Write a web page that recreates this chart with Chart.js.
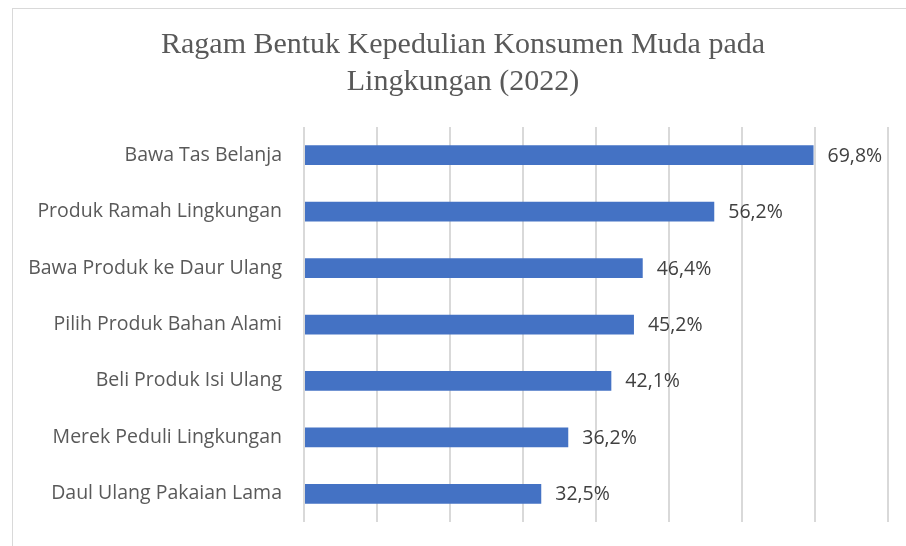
<!DOCTYPE html>
<html>
<head>
<meta charset="utf-8">
<script src="https://cdn.jsdelivr.net/npm/chart.js@4"></script>
<style>
  html, body { margin: 0; padding: 0; background: #fff; overflow: hidden; }
  #frame {
    position: absolute; left: 12px; top: 8px;
    width: 920px; height: 560px;
    border: 1px solid #d9d9d9;
  }
  #wrap { position: absolute; left: 0; top: 0; width: 900px; height: 537px; }
</style>
</head>
<body>
<div id="frame">
  <div id="wrap"><canvas id="barChart"></canvas></div>
</div>
<script>
const categories = [
  "Bawa Tas Belanja",
  "Produk Ramah Lingkungan",
  "Bawa Produk ke Daur Ulang",
  "Pilih Produk Bahan Alami",
  "Beli Produk Isi Ulang",
  "Merek Peduli Lingkungan",
  "Daul Ulang Pakaian Lama"
];
const values = [69.8, 56.2, 46.4, 45.2, 42.1, 36.2, 32.5];
const valueLabels = ["69,8%", "56,2%", "46,4%", "45,2%", "42,1%", "36,2%", "32,5%"];
const titleLines = ["Ragam Bentuk Kepedulian Konsumen Muda pada", "Lingkungan (2022)"];

const labelFont = "'Open Sans', sans-serif";

// title drawn by hand so it can be centred on the whole frame,
// the built-in one would clip the long category labels
const titlePlugin = {
  id: "frameTitle",
  afterDraw(chart) {
    const c = chart.ctx;
    c.save();
    c.font = "30px 'Liberation Serif', serif";
    c.fillStyle = "#595959";
    c.textAlign = "center";
    c.textBaseline = "middle";
    titleLines.forEach((line, i) => {
      c.fillText(line, chart.width / 2, 36 + i * 37.5);
    });
    c.restore();
  }
};

// draws the value next to each bar end
const valueLabelPlugin = {
  id: "valueLabels",
  afterDatasetsDraw(chart) {
    const c = chart.ctx;
    const meta = chart.getDatasetMeta(0);
    c.save();
    c.font = "19.5px " + labelFont;
    c.fillStyle = "#404040";
    c.textAlign = "left";
    c.textBaseline = "middle";
    meta.data.forEach((bar, i) => {
      c.fillText(valueLabels[i], bar.x + 14, bar.y + 1);
    });
    c.restore();
  }
};

const ctx = document.getElementById("barChart").getContext("2d");
let chart = new Chart(ctx, {
  type: "bar",
  data: {
    labels: categories,
    datasets: [{
      data: values,
      backgroundColor: "#4472c4",
      borderWidth: 0,
      barPercentage: 0.35,
      categoryPercentage: 1
    }]
  },
  options: {
    indexAxis: "y",
    responsive: true,
    maintainAspectRatio: false,
    animation: false,
    layout: { padding: { left: 0, right: 25, top: 118, bottom: 24 } },
    plugins: {
      legend: { display: false },
      tooltip: { enabled: false },
      title: { display: false }
    },
    scales: {
      x: {
        min: 0,
        max: 80,
        ticks: { display: false, stepSize: 10 },
        grid: { color: "#d9d9d9", lineWidth: 2, drawTicks: false },
        border: { display: false },
        afterFit(scale) { scale.height = 0; }
      },
      y: {
        grid: { display: false, drawTicks: false },
        border: { display: false },
        ticks: {
          color: "#595959",
          padding: 22,
          font: { family: labelFont, size: 19.5 }
        },
        afterFit(scale) {
          scale.width = 291;
          scale.paddingTop = 0;
          scale.paddingBottom = 0;
        }
      }
    }
  },
  plugins: [valueLabelPlugin, titlePlugin]
});
</script>
</body>
</html>
